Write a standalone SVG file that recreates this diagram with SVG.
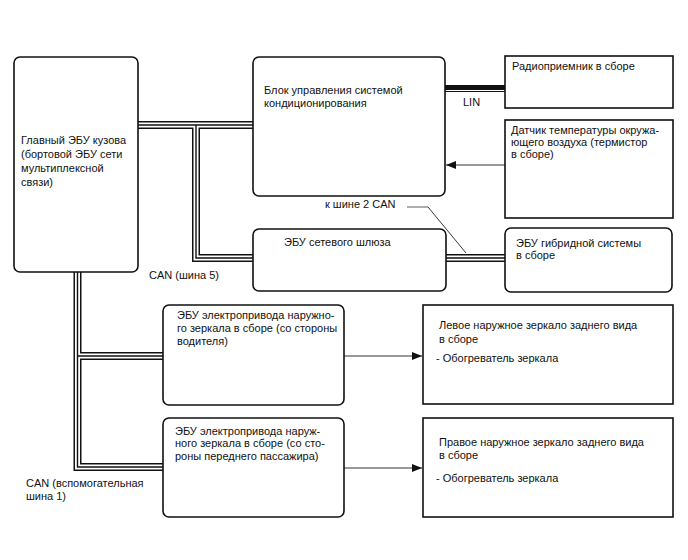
<svg xmlns="http://www.w3.org/2000/svg" width="688" height="560" viewBox="0 0 688 560">
<defs>
<style>
text{font-family:"Liberation Sans",Arial,sans-serif;font-size:11px;fill:#111}
.rb{fill:#fff;stroke:#111;stroke-width:1.6}
.bo{fill:none;stroke:#111;stroke-width:8}
.bw{fill:none;stroke:#fff;stroke-width:5}
.bc{fill:none;stroke:#111;stroke-width:1.4}
.ln{fill:none;stroke:#333;stroke-width:1}
</style>
<marker id="ah" viewBox="0 0 10 8" refX="10" refY="4" markerWidth="10" markerHeight="8" markerUnits="userSpaceOnUse" orient="auto">
<path d="M0,0 L10,4 L0,8 Z" fill="#111"/>
</marker>
</defs>
<rect width="688" height="560" fill="#fff"/>
<g id="connectors">
<path class="bo" d="M138,125 H253 M196,125 V258 H253 M446,258 H505 M77.5,272 V467 H163 M77.5,356 H163"/>
<path class="bw" d="M138,125 H253 M196,125 V258 H253 M446,258 H505 M77.5,272 V467 H163 M77.5,356 H163"/>
<path class="bc" d="M138,125 H253 M196,125 V258 H253 M446,258 H505 M77.5,272 V467 H163 M77.5,356 H163"/>
<path d="M445,88.5 H505" fill="none" stroke="#111" stroke-width="7"/>
<path d="M445,90.5 H505" fill="none" stroke="#fff" stroke-width="1"/>
<path class="ln" d="M505,165 H446" marker-end="url(#ah)"/>
<path class="ln" d="M344,356 H422" marker-end="url(#ah)"/>
<path class="ln" d="M344,468 H422" marker-end="url(#ah)"/>
<path d="M407,207 H428" fill="none" stroke="#777" stroke-width="1.2"/>
<path d="M428,207 L466,253" fill="none" stroke="#222" stroke-width="0.9"/>
<text x="463" y="106">LIN</text>
<text x="325" y="208">к шине 2 CAN</text>
<text x="149" y="279">CAN (шина 5)</text>
<text x="26" y="487">CAN (вспомогательная</text>
<text x="26" y="500">шина 1)</text>
</g>
<g id="main-ecu">
<rect class="rb" x="14" y="57" width="124" height="215" rx="6"/>
<text x="21" y="144">Главный ЭБУ кузова</text>
<text x="21" y="158">(бортовой ЭБУ сети</text>
<text x="21" y="172">мультиплексной</text>
<text x="21" y="186">связи)</text>
</g>
<g id="ac-ecu">
<rect class="rb" x="253" y="57" width="192" height="139" rx="6"/>
<text x="264" y="94">Блок управления системой</text>
<text x="264" y="107">кондиционирования</text>
</g>
<g id="radio">
<rect class="rb" x="505" y="56" width="168" height="52"/>
<text x="512" y="70">Радиоприемник в сборе</text>
</g>
<g id="temp-sensor">
<rect class="rb" x="505" y="120" width="168" height="98"/>
<text x="511" y="134">Датчик температуры окружа-</text>
<text x="511" y="146">ющего воздуха (термистор</text>
<text x="511" y="158">в сборе)</text>
</g>
<g id="gateway">
<rect class="rb" x="253" y="229" width="193" height="62" rx="6"/>
<text x="284" y="246">ЭБУ сетевого шлюза</text>
</g>
<g id="hybrid">
<rect class="rb" x="505" y="228" width="167" height="64" rx="6"/>
<text x="516" y="247">ЭБУ гибридной системы</text>
<text x="516" y="259">в сборе</text>
</g>
<g id="mirror-ecu-driver">
<rect class="rb" x="163" y="305" width="181" height="100" rx="6"/>
<text x="177" y="319">ЭБУ электропривода наружно-</text>
<text x="177" y="332">го зеркала в сборе (со стороны</text>
<text x="177" y="345">водителя)</text>
</g>
<g id="mirror-ecu-passenger">
<rect class="rb" x="163" y="418" width="181" height="99" rx="6"/>
<text x="175" y="435">ЭБУ электропривода наруж-</text>
<text x="175" y="447">ного зеркала в сборе (со сто-</text>
<text x="175" y="460">роны переднего пассажира)</text>
</g>
<g id="left-mirror">
<rect class="rb" x="423" y="305" width="250" height="99"/>
<text x="439" y="329">Левое наружное зеркало заднего вида</text>
<text x="439" y="343">в сборе</text>
<text x="436" y="362">- Обогреватель зеркала</text>
</g>
<g id="right-mirror">
<rect class="rb" x="423" y="418" width="250" height="99"/>
<text x="439" y="446">Правое наружное зеркало заднего вида</text>
<text x="439" y="459">в сборе</text>
<text x="436" y="482">- Обогреватель зеркала</text>
</g>
</svg>
